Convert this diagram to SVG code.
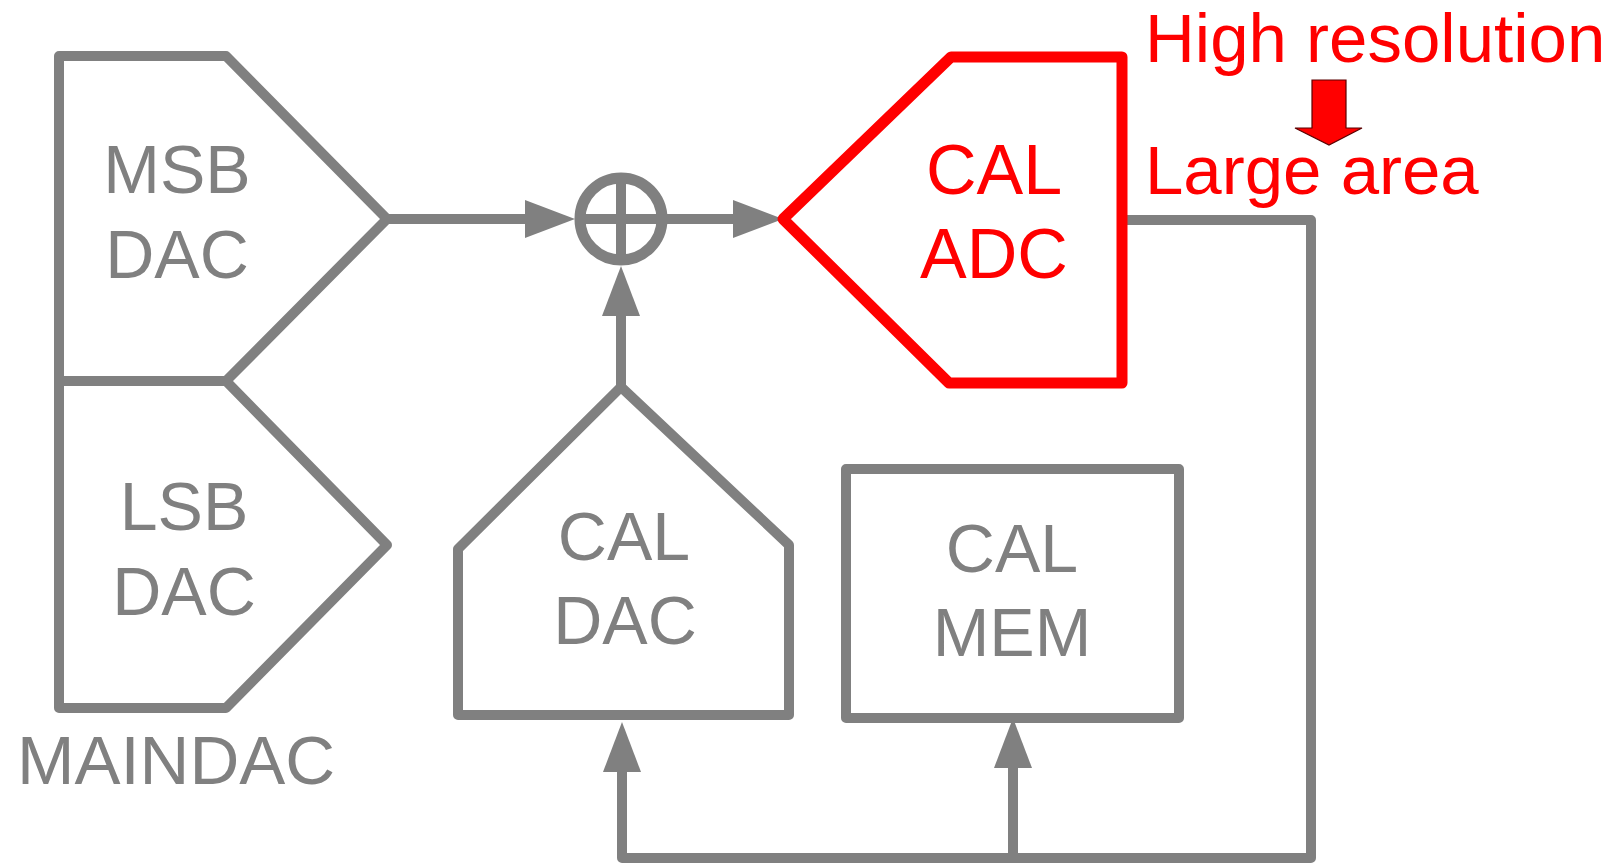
<svg xmlns="http://www.w3.org/2000/svg" width="1621" height="864" viewBox="0 0 1621 864">
<style>
.g{fill:none;stroke:#808080;stroke-width:10;stroke-linejoin:round;stroke-linecap:round}
.r{fill:none;stroke:#ff0000;stroke-width:11;stroke-linejoin:round;stroke-linecap:round}
.c{fill:none;stroke:#808080;stroke-width:10;stroke-linejoin:round;stroke-linecap:butt}
.tg{font-family:"Liberation Sans",Arial,sans-serif;font-size:68px;fill:#808080;text-anchor:middle}
.tr{font-family:"Liberation Sans",Arial,sans-serif;font-size:69px;fill:#ff0000}
</style>
<defs>
<marker id="ah" markerUnits="userSpaceOnUse" markerWidth="50" markerHeight="40" refX="0" refY="19" orient="auto" viewBox="0 0 50 38">
<path d="M0,0 L50,19 L0,38 z" fill="#808080"/>
</marker>
</defs>
<rect width="1621" height="864" fill="#fff"/>
<g id="connectors">
<path class="c" d="M387,219 H525" marker-end="url(#ah)"/>
<path class="c" d="M662,219 H733" marker-end="url(#ah)"/>
<path class="c" d="M621,387 V316" marker-end="url(#ah)"/>
<path class="g" d="M1122,220 H1311 V858 H622 V772" marker-end="url(#ah)" style="stroke-linecap:butt"/>
<path class="c" d="M1013,858 V768" marker-end="url(#ah)"/>
</g>
<g id="msb-dac">
<path class="g" d="M59,56 H226 L387,219 L226,381 H59 Z"/>
<text class="tg" x="177" y="193">MSB</text>
<text class="tg" x="177" y="278">DAC</text>
</g>
<g id="lsb-dac">
<path class="g" d="M59,381 H226 L387,545 L226,708 H59 Z"/>
<text class="tg" x="184" y="530">LSB</text>
<text class="tg" x="184" y="615">DAC</text>
</g>
<g id="maindac-label">
<text class="tg" x="176" y="784" style="font-size:69px">MAINDAC</text>
</g>
<g id="sum">
<circle cx="621" cy="219" r="41" fill="none" stroke="#808080" stroke-width="11"/>
<line class="c" x1="580" y1="219" x2="662" y2="219"/>
<line class="c" x1="621" y1="178" x2="621" y2="260"/>
</g>
<g id="cal-adc">
<path class="r" d="M783,219 L951,57 H1122 V383 H949 Z"/>
<text class="tg" x="994" y="194" style="fill:#ff0000;font-size:70px">CAL</text>
<text class="tg" x="994" y="278" style="fill:#ff0000;font-size:70px">ADC</text>
</g>
<g id="cal-dac">
<path class="g" d="M621,387 L789,545 V715 H458 V549 Z"/>
<text class="tg" x="624" y="560">CAL</text>
<text class="tg" x="625" y="644">DAC</text>
</g>
<g id="cal-mem">
<rect class="g" x="846" y="469" width="333" height="249"/>
<text class="tg" x="1012" y="572">CAL</text>
<text class="tg" x="1012" y="656">MEM</text>
</g>
<g id="annotation">
<text class="tr" x="1145" y="62">High resolution</text>
<path d="M1312,80 H1346 V128 H1362 L1329,145 L1295,128 H1312 Z" fill="#ff0000" stroke="#5a0000" stroke-width="1.2"/>
<text class="tr" x="1145" y="194">Large area</text>
</g>
</svg>
